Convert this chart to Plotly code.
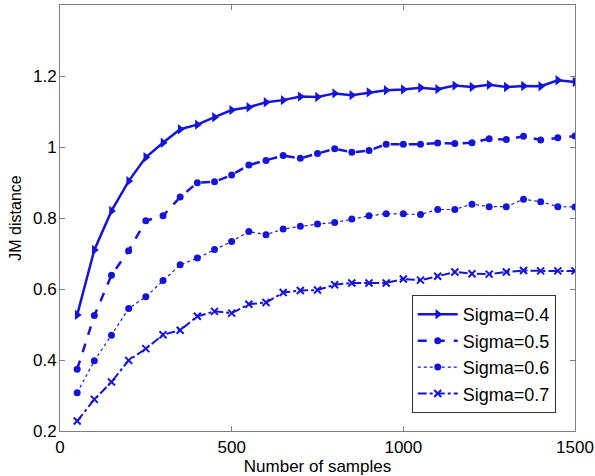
import plotly.graph_objects as go

samples = list(range(50, 1501, 50))
sigma04 = [0.527, 0.71, 0.82, 0.904, 0.971, 1.012, 1.05, 1.063, 1.084, 1.104, 1.112, 1.126, 1.132, 1.142, 1.141,
           1.151, 1.146, 1.154, 1.16, 1.162, 1.167, 1.163, 1.173, 1.169, 1.175, 1.169, 1.172, 1.171, 1.188, 1.183]
sigma05 = [0.374, 0.525, 0.639, 0.708, 0.792, 0.806, 0.859, 0.899, 0.902, 0.921, 0.949, 0.962, 0.976, 0.968, 0.982,
           0.995, 0.985, 0.99, 1.008, 1.008, 1.008, 1.011, 1.01, 1.012, 1.023, 1.021, 1.03, 1.02, 1.026, 1.031]
sigma06 = [0.308, 0.398, 0.47, 0.545, 0.578, 0.624, 0.668, 0.687, 0.711, 0.734, 0.762, 0.753, 0.769, 0.777, 0.783,
           0.787, 0.797, 0.806, 0.812, 0.812, 0.81, 0.824, 0.824, 0.839, 0.832, 0.832, 0.853, 0.846, 0.832, 0.831]
sigma07 = [0.228, 0.289, 0.338, 0.399, 0.432, 0.471, 0.484, 0.523, 0.537, 0.532, 0.557, 0.562, 0.59, 0.596, 0.597,
           0.612, 0.617, 0.617, 0.617, 0.628, 0.625, 0.636, 0.648, 0.643, 0.642, 0.648, 0.652, 0.651, 0.651, 0.651]

names = ["Sigma=0.4", "Sigma=0.5", "Sigma=0.6", "Sigma=0.7"]
xticks = [0, 500, 1000, 1500]
yticks = [0.2, 0.4, 0.6, 0.8, 1.0, 1.2]
yticklabels = ["0.2", "0.4", "0.6", "0.8", "1", "1.2"]

color = "#1515d8"
FONT = "Liberation Sans, Arial"
styles = [
    dict(dash="solid", width=2.5, symbol="triangle-right", size=9),
    dict(dash="dash", width=2.5, symbol="circle", size=7),
    dict(dash="dot", width=1.2, symbol="circle", size=7),
    dict(dash="dashdot", width=2, symbol="x-thin", size=7),
]

fig = go.Figure()
for name, ys, st in zip(names, [sigma04, sigma05, sigma06, sigma07], styles):
    marker = dict(symbol=st["symbol"], size=st["size"], color=color)
    if st["symbol"] == "x-thin":
        marker["line"] = dict(color=color, width=2)
    fig.add_trace(go.Scatter(
        x=samples, y=ys, name=name, legendgroup=name, mode="lines+markers",
        line=dict(color=color, width=st["width"], dash=st["dash"]),
        marker=marker,
    ))

axis_common = dict(
    showline=True, linecolor="#7f7f7f", linewidth=1, mirror="allticks",
    ticks="inside", ticklen=5, tickcolor="#7f7f7f", showgrid=False, zeroline=False,
    tickfont=dict(family=FONT, size=17, color="black"),
    ticklabeloverflow="allow",
)
fig.update_xaxes(range=[0, 1500], tickvals=xticks, ticktext=[str(v) for v in xticks],
                 ticklabelstandoff=1,
                 title=dict(text="Number of samples", standoff=3,
                            font=dict(family=FONT, size=17, color="black")),
                 **axis_common)
fig.update_yaxes(range=[0.2, 1.4], tickvals=yticks, ticktext=yticklabels,
                 ticklabelstandoff=-1,
                 title=dict(text="JM distance", standoff=7,
                            font=dict(family=FONT, size=16, color="black")),
                 **axis_common)

fig.update_layout(
    width=595, height=476,
    margin=dict(l=60, r=20, t=5, b=45, autoexpand=False),
    plot_bgcolor="white", paper_bgcolor="white",
    font=dict(family=FONT, size=16, color="black"),
    legend=dict(x=0.683, y=0.042, xanchor="left", yanchor="bottom",
                bgcolor="white", bordercolor="#333333", borderwidth=1,
                font=dict(size=18), itemwidth=40, tracegroupgap=0),
    showlegend=True,
)

fig.write_html("out.html", config={"displayModeBar": False},
               post_script="document.body.style.margin='0';")
